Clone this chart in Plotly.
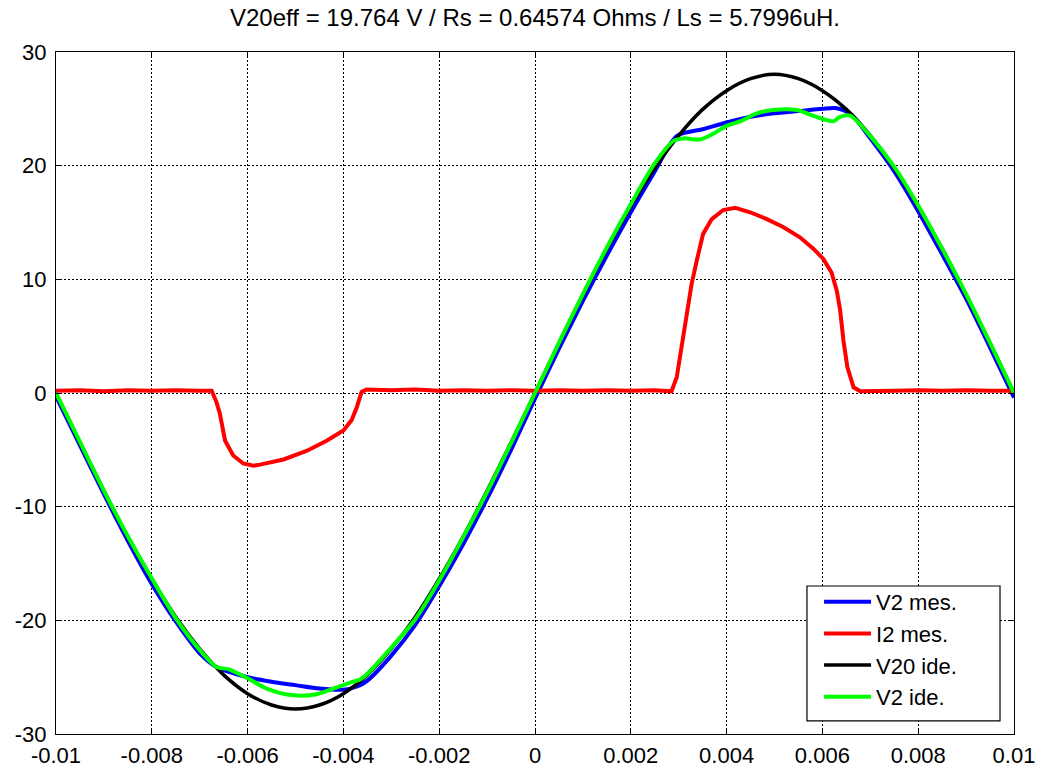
import plotly.graph_objects as go

# ---- data ----
t_v20 = [-0.01, -0.0095, -0.009, -0.0085, -0.008, -0.0075, -0.007, -0.0065, -0.006, -0.0055,
         -0.005, -0.0045, -0.004, -0.0035, -0.003, -0.0025, -0.002, -0.0015, -0.001, -0.0005,
         0.0, 0.0005, 0.001, 0.0015, 0.002, 0.0025, 0.003, 0.0035, 0.004, 0.0045,
         0.005, 0.0055, 0.006, 0.0065, 0.007, 0.0075, 0.008, 0.0085, 0.009, 0.0095, 0.01]
v20_ide = [0.0, -4.35, -8.6, -12.65, -16.35, -19.7, -22.5, -24.8, -26.45, -27.45,
           -27.8, -27.45, -26.45, -24.8, -22.5, -19.7, -16.35, -12.65, -8.6, -4.35,
           0.0, 4.4, 8.65, 12.7, 16.45, 19.8, 22.65, 24.95, 26.6, 27.65,
           28.05, 27.65, 26.6, 24.95, 22.65, 19.8, 16.45, 12.7, 8.65, 4.4, 0.0]

t_v2mes = [-0.01, -0.0095, -0.009, -0.0085, -0.008, -0.0075, -0.007, -0.00665, -0.006, -0.0055,
           -0.005, -0.0045, -0.004, -0.0037, -0.0035, -0.003, -0.0025, -0.002, -0.0015, -0.001,
           -0.0005, 0.0, 0.0005, 0.001, 0.0015, 0.002, 0.0025, 0.00296, 0.0035, 0.004,
           0.0045, 0.005, 0.0055, 0.006, 0.0063, 0.0066, 0.007, 0.0075, 0.008, 0.0085,
           0.009, 0.0095, 0.01]
v2_mes = [-0.3, -4.6, -8.9, -13.0, -16.8, -20.1, -22.9, -24.1, -25.0, -25.4,
          -25.7, -26.0, -26.1, -25.8, -25.3, -23.1, -20.4, -17.0, -13.3, -9.3,
          -5.0, -0.5, 3.9, 8.1, 12.1, 15.9, 19.5, 22.6, 23.2, 23.8,
          24.3, 24.6, 24.8, 25.0, 25.05, 24.5, 22.4, 19.5, 16.0, 12.2,
          8.3, 4.0, -0.4]

t_i2 = [-0.01, -0.0095, -0.009, -0.0085, -0.008, -0.0075, -0.007, -0.00675,
        -0.00665, -0.00658, -0.00647, -0.0063, -0.00609, -0.00588, -0.00574, -0.00525, -0.00477,
        -0.00435, -0.004, -0.00383, -0.00372, -0.00362, -0.00352,
        -0.003, -0.0025, -0.002, -0.0015, -0.001, -0.0005, 0.0, 0.0005, 0.001, 0.0015,
        0.002, 0.0025, 0.00285,
        0.00296, 0.00306, 0.00317, 0.00327, 0.00338, 0.00351, 0.00369, 0.00393, 0.00418,
        0.00449, 0.00484, 0.00518, 0.00553, 0.00581, 0.00602, 0.00619, 0.0063, 0.00637,
        0.00644, 0.00652, 0.00665, 0.00679,
        0.0075, 0.008, 0.0085, 0.009, 0.0095, 0.01]
i2_mes = [0.2, 0.25, 0.15, 0.25, 0.2, 0.25, 0.2, 0.2,
          -0.8, -1.8, -4.2, -5.5, -6.2, -6.4, -6.3, -5.85, -5.1,
          -4.2, -3.3, -2.4, -1.25, 0.1, 0.3,
          0.25, 0.3, 0.2, 0.25, 0.2, 0.25, 0.2, 0.25, 0.2, 0.25,
          0.2, 0.25, 0.15,
          1.4, 4.0, 6.7, 9.6, 11.7, 14.0, 15.3, 16.1, 16.3,
          15.9, 15.3, 14.6, 13.7, 12.7, 11.8, 10.6, 9.0, 7.3,
          4.6, 2.3, 0.5, 0.15,
          0.2, 0.25, 0.2, 0.25, 0.2, 0.2]

t_v2ide = [-0.01, -0.0095, -0.009, -0.0085, -0.008, -0.0075, -0.007, -0.00665, -0.0064, -0.006,
           -0.0056, -0.00505, -0.00456, -0.00414, -0.0038, -0.00365, -0.0035, -0.003, -0.0025, -0.002,
           -0.0015, -0.001, -0.0005, 0.0, 0.0005, 0.001, 0.0015, 0.002, 0.0025, 0.0029,
           0.0031, 0.00344, 0.00372, 0.004, 0.00428, 0.00463, 0.00497, 0.00547, 0.0058, 0.00623,
           0.00637, 0.00658, 0.007, 0.0075, 0.008, 0.0085, 0.009, 0.0095, 0.01]
v2_ide = [0.0, -4.3, -8.6, -12.6, -16.3, -19.8, -22.6, -24.1, -24.3, -25.1,
          -26.0, -26.6, -26.5, -25.9, -25.4, -25.2, -24.7, -22.4, -19.9, -16.5,
          -12.7, -8.7, -4.4, 0.0, 4.4, 8.7, 12.8, 16.6, 20.2, 22.2,
          22.4, 22.3, 22.8, 23.5, 23.9, 24.6, 24.9, 24.9, 24.4, 23.9,
          24.3, 24.4, 22.6, 19.9, 16.5, 12.7, 8.7, 4.4, 0.0]

x_tickvals = [-0.01, -0.008, -0.006, -0.004, -0.002, 0, 0.002, 0.004, 0.006, 0.008, 0.01]
x_ticktext = ["-0.01", "-0.008", "-0.006", "-0.004", "-0.002", "0", "0.002", "0.004", "0.006", "0.008", "0.01"]
y_tickvals = [-30, -20, -10, 0, 10, 20, 30]
y_ticktext = ["-30", "-20", "-10", "0", "10", "20", "30"]

title_text = "V20eff = 19.764 V / Rs = 0.64574 Ohms / Ls = 5.7996uH."

FONT = "Liberation Sans, Arial, sans-serif"

fig = go.Figure()
fig.add_trace(go.Scatter(x=t_v2mes, y=v2_mes, mode="lines", name="V2 mes.",
                         line=dict(color="#0000FF", width=4, shape="spline", smoothing=0.8)))
fig.add_trace(go.Scatter(x=t_i2, y=i2_mes, mode="lines", name="I2 mes.",
                         line=dict(color="#FF0000", width=4)))
fig.add_trace(go.Scatter(x=t_v20, y=v20_ide, mode="lines", name="V20 ide.",
                         line=dict(color="#000000", width=3.5, shape="spline", smoothing=0.8)))
fig.add_trace(go.Scatter(x=t_v2ide, y=v2_ide, mode="lines", name="V2 ide.",
                         line=dict(color="#00FF00", width=4, shape="spline", smoothing=0.8)))

axis_common = dict(
    showgrid=True, gridcolor="black", gridwidth=1.3, griddash="2px,2px",
    zeroline=False, showline=True, linecolor="black", linewidth=1, mirror="ticks",
    ticks="inside", ticklen=4, tickcolor="black", automargin=False,
    tickfont=dict(family=FONT, size=22, color="black"),
)

# legend frame (white box with black border) behind the legend entries
fig.add_shape(type="rect", xref="paper", yref="paper",
              x0=0.7839, x1=0.9854, y0=0.0191, y1=0.217,
              line=dict(color="black", width=1.2), fillcolor="white", layer="above")

fig.update_layout(
    width=1044, height=772,
    margin=dict(l=56, r=30, t=52, b=38, autoexpand=False),
    paper_bgcolor="white", plot_bgcolor="white",
    title=dict(text=title_text, x=0.5, xref="paper", xanchor="center",
               y=1 - 18 / 772, yref="container", yanchor="middle",
               font=dict(family=FONT, size=24, color="black")),
    xaxis=dict(range=[-0.01, 0.01], tickvals=x_tickvals, ticktext=x_ticktext,
               ticklabelstandoff=2, **axis_common),
    yaxis=dict(range=[-30, 30], tickvals=y_tickvals, ticktext=y_ticktext,
               ticklabelstandoff=4, **axis_common),
    legend=dict(x=0.7965, y=0.2243, xanchor="left", yanchor="top",
                bgcolor="rgba(0,0,0,0)", borderwidth=0,
                font=dict(family=FONT, size=22, color="black"),
                itemwidth=47),
    showlegend=True,
)

fig.write_html("out.html")
